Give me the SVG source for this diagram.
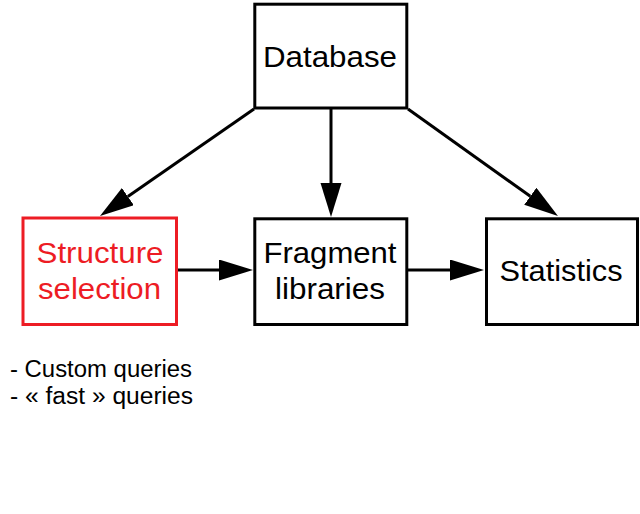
<svg xmlns="http://www.w3.org/2000/svg" width="640" height="514" viewBox="0 0 640 514">
  <style>
    .box { fill: #ffffff; stroke: #000000; stroke-width: 3; }
    .box.red { stroke: #ed1c24; }
    .lbl { font-family: "Liberation Sans", Arial, sans-serif; font-size: 29.5px; fill: #000000; text-anchor: middle; }
    .lbl.red { fill: #ed1c24; }
    .note { font-family: "Liberation Sans", Arial, sans-serif; font-size: 23px; fill: #000000; }
    .conn { fill: none; stroke: #000000; stroke-width: 3; }
  </style>
  <defs>
    <marker id="arrow" markerUnits="userSpaceOnUse" markerWidth="36" markerHeight="22" refX="0" refY="10.5" orient="auto">
      <path d="M0,0 L34,10.5 L0,21 z" fill="#000000"/>
    </marker>
  </defs>
  <rect width="640" height="514" fill="#ffffff"/>

  <g id="connectors">
    <line class="conn" x1="254" y1="109" x2="127.9" y2="196.6" marker-end="url(#arrow)"/>
    <line class="conn" x1="331" y1="109" x2="331" y2="183" marker-end="url(#arrow)"/>
    <line class="conn" x1="408" y1="109" x2="530.3" y2="196.3" marker-end="url(#arrow)"/>
    <line class="conn" x1="178" y1="270" x2="219" y2="270" marker-end="url(#arrow)"/>
    <line class="conn" x1="408" y1="270" x2="450" y2="270" marker-end="url(#arrow)"/>
  </g>

  <g id="database">
    <rect class="box" x="254.8" y="4.2" width="152" height="103.8"/>
    <text class="lbl" x="330" y="67" textLength="134" lengthAdjust="spacingAndGlyphs">Database</text>
  </g>

  <g id="structure-selection">
    <rect class="box red" x="23" y="218" width="153.5" height="106.5"/>
    <text class="lbl red" x="100" y="263" textLength="127" lengthAdjust="spacingAndGlyphs">Structure</text>
    <text class="lbl red" x="99.5" y="299" textLength="123" lengthAdjust="spacingAndGlyphs">selection</text>
  </g>

  <g id="fragment-libraries">
    <rect class="box" x="254.8" y="218.8" width="152" height="105.7"/>
    <text class="lbl" x="330" y="263" textLength="133" lengthAdjust="spacingAndGlyphs">Fragment</text>
    <text class="lbl" x="330" y="298.5" textLength="110" lengthAdjust="spacingAndGlyphs">libraries</text>
  </g>

  <g id="statistics">
    <rect class="box" x="486.5" y="218.8" width="151" height="105.7"/>
    <text class="lbl" x="561" y="281" textLength="123" lengthAdjust="spacingAndGlyphs">Statistics</text>
  </g>

  <g id="notes">
    <text class="note" x="10" y="377" textLength="182" lengthAdjust="spacingAndGlyphs">- Custom queries</text>
    <text class="note" x="10" y="404" textLength="183" lengthAdjust="spacingAndGlyphs">- « fast » queries</text>
  </g>
</svg>
